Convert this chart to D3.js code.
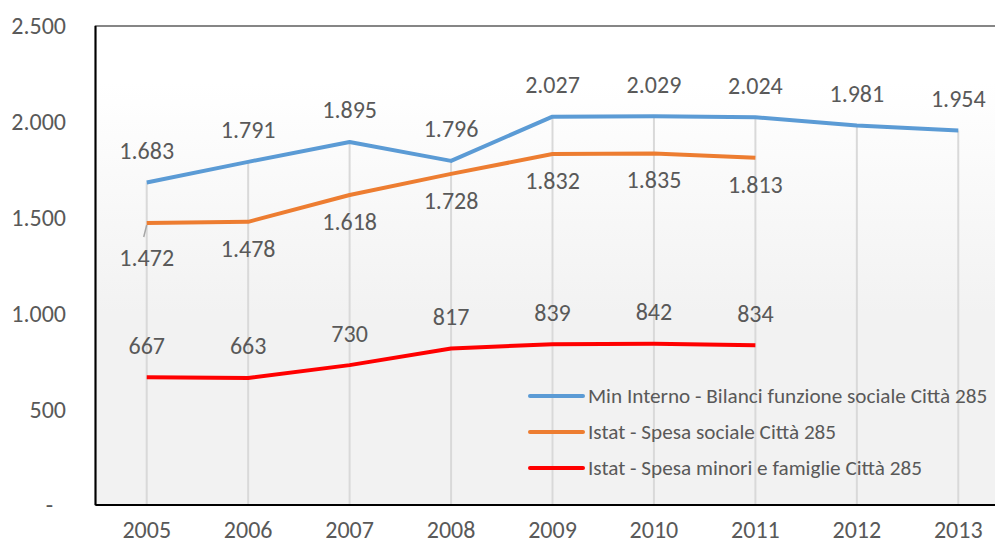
<!DOCTYPE html>
<html>
<head>
<meta charset="utf-8">
<script src="https://cdn.jsdelivr.net/npm/d3@7"></script>
<style>
    body { margin: 0; background: #fff; }
    svg { display: block; font-family: Carlito, Calibri, "Open Sans", sans-serif; }
</style>
</head>
<body>
<div class="chart"></div>
<script>
const years = ["2005", "2006", "2007", "2008", "2009", "2010", "2011", "2012", "2013"]

const minInterno = [1683, 1791, 1895, 1796, 2027, 2029, 2024, 1981, 1954]
const istatSociale = [1472, 1478, 1618, 1728, 1832, 1835, 1813]
const istatMinori = [667, 663, 730, 817, 839, 842, 834]

const yTicks = [0, 500, 1000, 1500, 2000, 2500]

const seriesNames = [
    "Min Interno - Bilanci funzione sociale Città 285",
    "Istat - Spesa sociale Città 285",
    "Istat - Spesa minori e famiglie Città 285"
]

const series = [
    { name: seriesNames[0], values: minInterno, color: "#5b9bd5", labelDy: -32 },
    { name: seriesNames[1], values: istatSociale, color: "#ed7d31", labelDy: 26.5 },
    { name: seriesNames[2], values: istatMinori, color: "#ff0000", labelDy: -32 }
]

const width = 995,
    height = 544,
    margin = { top: 26, left: 96, right: -14, bottom: 39 }

const fmt = d3.formatLocale({ decimal: ",", thousands: ".", grouping: [3], currency: ["", "€"] }).format(",d")

const x = d3.scaleBand()
    .domain(years)
    .range([margin.left, width - margin.right])

const y = d3.scaleLinear()
    .domain([0, 2500])
    .range([height - margin.bottom, margin.top])

const svg = d3.select(".chart").append("svg")
    .attr("width", width)
    .attr("height", height)

const defs = svg.append("defs")
const grad = defs.append("linearGradient")
    .attr("id", "bg")
    .attr("x1", 0).attr("y1", 0).attr("x2", 0).attr("y2", 1)
grad.append("stop").attr("offset", "0.12").attr("stop-color", "#ffffff")
grad.append("stop").attr("offset", "0.6").attr("stop-color", "#f2f2f2")
grad.append("stop").attr("offset", "1").attr("stop-color", "#f2f2f2")

// plot area
svg.append("rect")
    .attr("x", margin.left - 0.5)
    .attr("y", y(2500))
    .attr("width", x.range()[1] - margin.left + 0.5)
    .attr("height", y(0) - y(2500))
    .attr("fill", "url(#bg)")
    .attr("stroke", "#5f5f5f")
    .attr("stroke-width", 1.5)

const cx = d => x(d) + x.bandwidth() / 2

// drop lines from the highest point down to the axis
svg.append("g")
    .selectAll("line")
    .data(years)
    .enter()
    .append("line")
    .attr("x1", cx)
    .attr("x2", cx)
    .attr("y1", (d, i) => y(d3.max(series, s => s.values[i] === undefined ? 0 : s.values[i])))
    .attr("y2", y(0))
    .attr("stroke", "#d9d9d9")
    .attr("stroke-width", 2)

// axis lines
svg.append("line")
    .attr("x1", margin.left - 0.5).attr("x2", margin.left - 0.5)
    .attr("y1", y(2500)).attr("y2", y(0))
    .attr("stroke", "#000").attr("stroke-width", 2)
svg.append("line")
    .attr("x1", margin.left - 0.5).attr("x2", width)
    .attr("y1", y(0)).attr("y2", y(0))
    .attr("stroke", "#000").attr("stroke-width", 2)

// y tick labels
svg.append("g")
    .selectAll("text")
    .data(yTicks)
    .enter()
    .append("text")
    .attr("x", 66)
    .attr("y", d => y(d))
    .attr("dx", d => d === 0 ? -13 : 0)
    .attr("dy", "0.35em")
    .attr("text-anchor", "end")
    .attr("font-size", 24)
    .attr("fill", "#595959")
    .text(d => d === 0 ? "-" : fmt(d))

// x tick labels (kept inside the bottom edge)
svg.append("g")
    .selectAll("text")
    .data(years)
    .enter()
    .append("text")
    .attr("x", cx)
    .attr("y", 529.5)
    .attr("dy", "0.35em")
    .attr("text-anchor", "middle")
    .attr("font-size", 24)
    .attr("fill", "#595959")
    .text(d => d)

const line = d3.line()
    .x((d, i) => cx(years[i]))
    .y(d => y(d))

series.forEach(s => {
    svg.append("path")
        .datum(s.values)
        .attr("d", line)
        .attr("fill", "none")
        .attr("stroke", s.color)
        .attr("stroke-width", 4)
        .attr("stroke-linejoin", "round")
})

// data labels
series.forEach((s, si) => {
    const g = svg.append("g")
    g.selectAll("text")
        .data(s.values)
        .enter()
        .append("text")
        .attr("x", (d, i) => cx(years[i]))
        .attr("y", (d, i) => y(d) + s.labelDy + (si === 1 && i === 0 ? 8.5 : 0))
        .attr("dy", "0.35em")
        .attr("text-anchor", "middle")
        .attr("font-size", 24)
        .attr("fill", "#595959")
        .text(d => fmt(d))
})

// leader line for the first orange label
svg.append("line")
    .attr("x1", cx(years[0]))
    .attr("y1", y(istatSociale[0]) + 2)
    .attr("x2", cx(years[0]) - 3)
    .attr("y2", y(istatSociale[0]) + 14)
    .attr("stroke", "#a6a6a6")
    .attr("stroke-width", 1.5)

// legend
const legend = svg.append("g")
    .selectAll("g")
    .data(series)
    .enter()
    .append("g")
    .attr("transform", (d, i) => `translate(530, ${396 + i * 36})`)

legend.append("line")
    .attr("x1", 0)
    .attr("x2", 53)
    .attr("stroke", d => d.color)
    .attr("stroke-width", 4)
    .attr("stroke-linecap", "round")

legend.append("text")
    .attr("x", 58)
    .attr("dy", "0.35em")
    .attr("font-size", 21.2)
    .attr("fill", "#595959")
    .text(d => d.name)
</script>
</body>
</html>
